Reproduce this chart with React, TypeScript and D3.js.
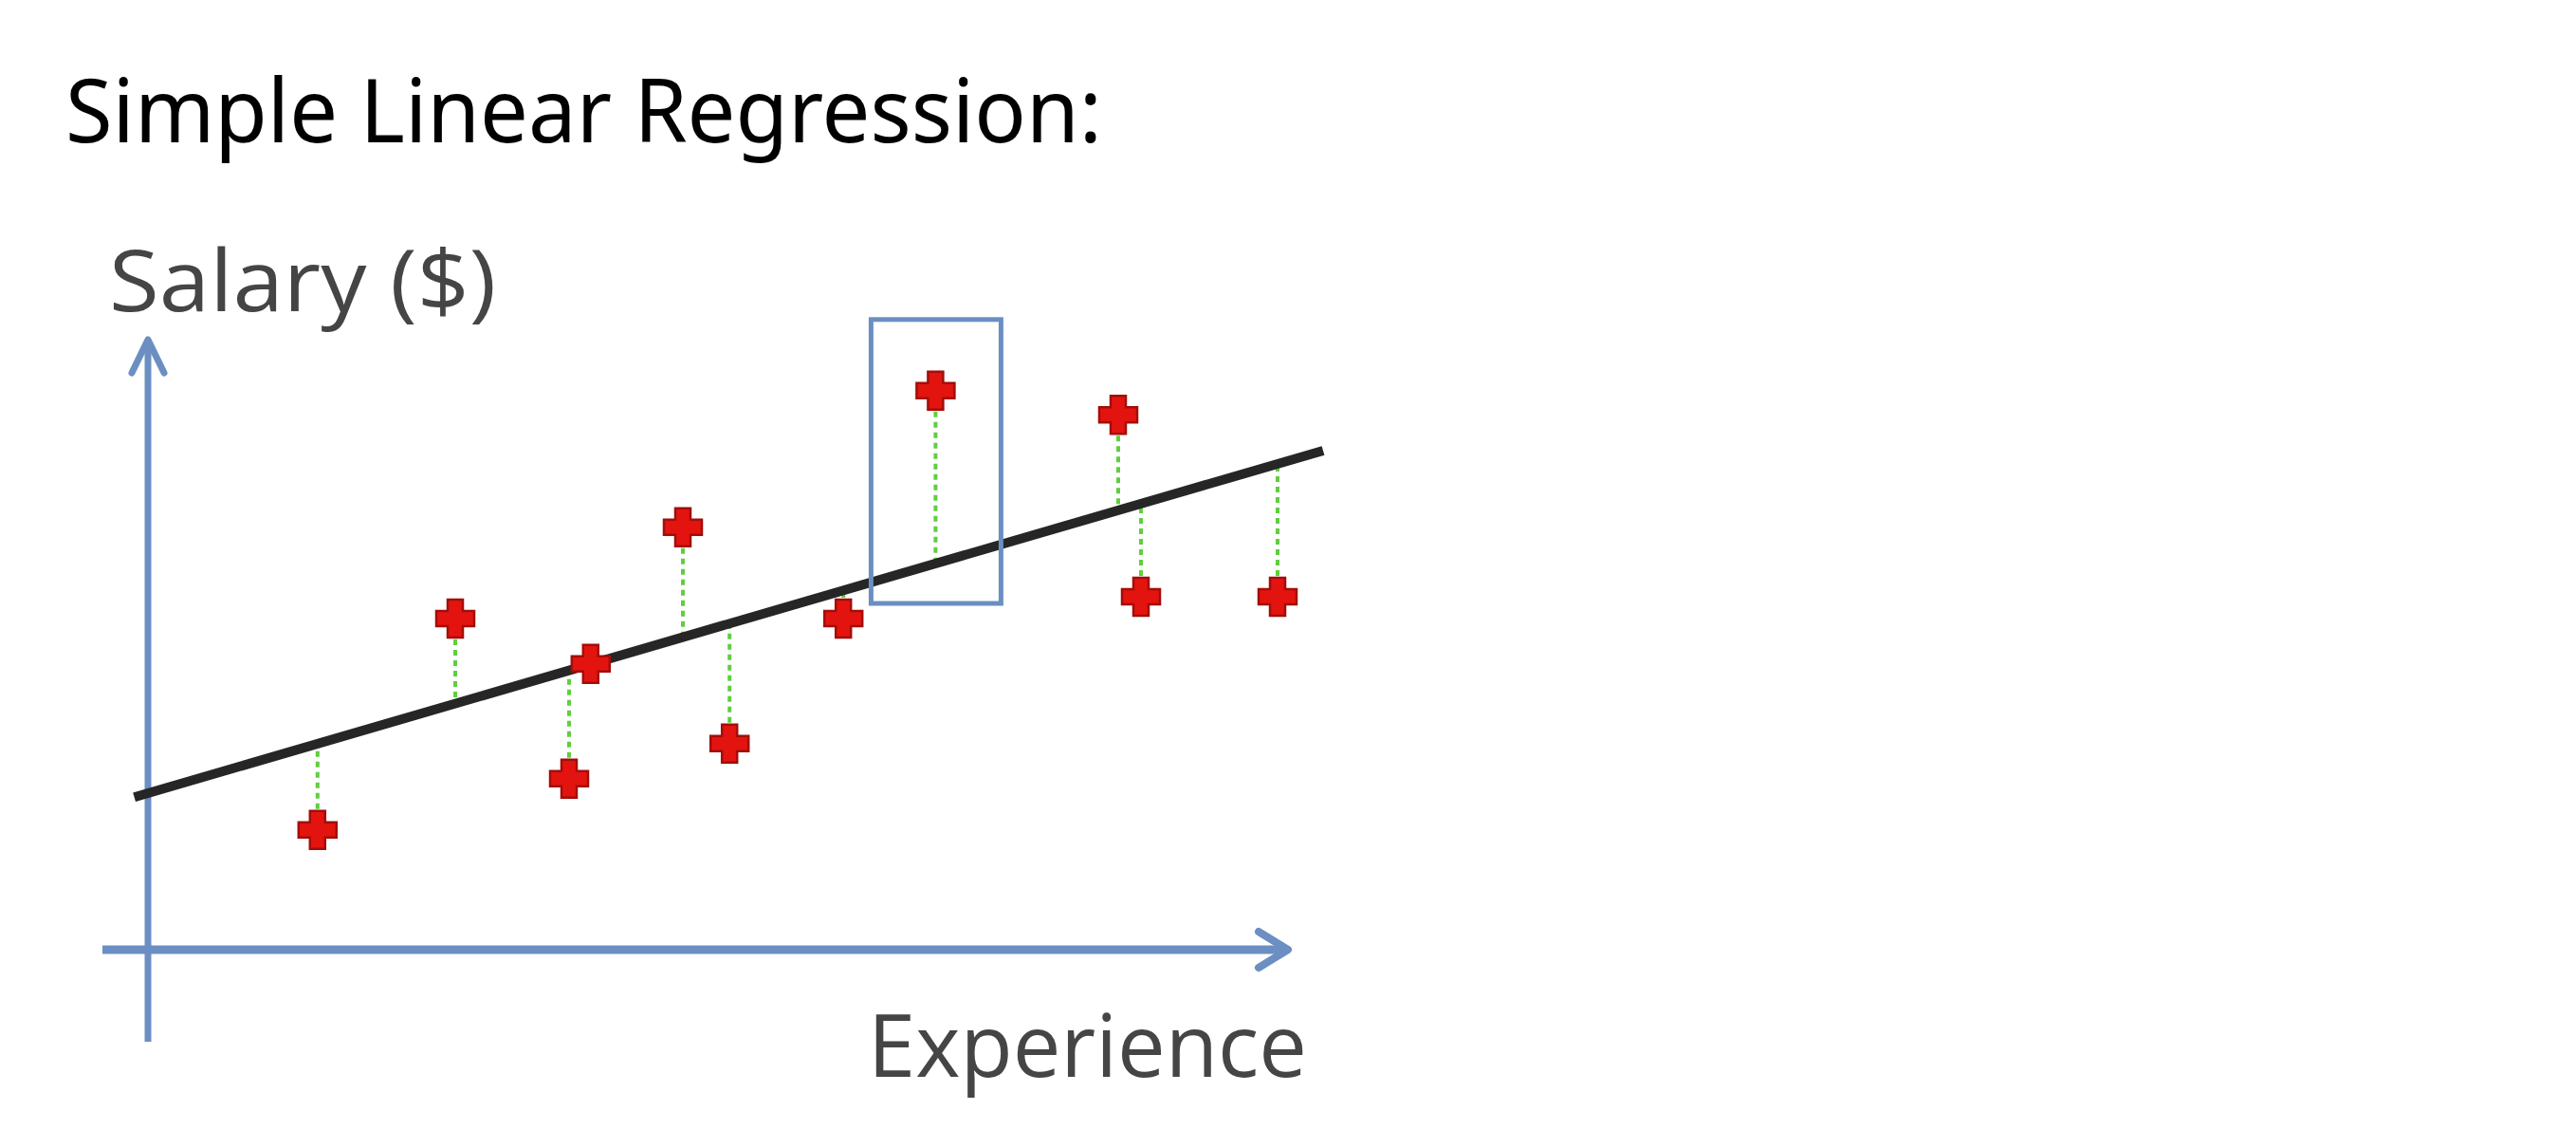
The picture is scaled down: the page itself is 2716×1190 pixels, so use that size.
import React from 'react';
import * as d3 from 'd3';

// years of experience (x) and salary (y), both on a 0-100 scale
const experience: number[] = [14.9, 27.0, 37.0, 38.9, 47.0, 51.1, 61.1, 69.2, 85.25, 87.25, 99.25];
const salary: number[] = [19.8, 54.8, 28.3, 47.3, 69.9, 34.1, 54.8, 92.5, 88.5, 58.4, 58.4];

// fitted line y = intercept + slope * x
const intercept = 25.9;
const slope = 0.549;
const lineExtent: number[] = [-1.2, 103.25];

const highlightIndex = 7;

const W = 2716;
const H = 1190;

// plus sign with thicker arms than d3.symbolCross
const fatCross = {
  draw(ctx: any, size: number) {
    const s = Math.sqrt(size) / 2; // half width
    const a = s * 0.4; // half arm thickness
    ctx.moveTo(-s, -a);
    ctx.lineTo(-a, -a);
    ctx.lineTo(-a, -s);
    ctx.lineTo(a, -s);
    ctx.lineTo(a, -a);
    ctx.lineTo(s, -a);
    ctx.lineTo(s, a);
    ctx.lineTo(a, a);
    ctx.lineTo(a, s);
    ctx.lineTo(-a, s);
    ctx.lineTo(-a, a);
    ctx.lineTo(-s, a);
    ctx.closePath();
  },
};

const App: React.FC = () => {
  const x = d3.scaleLinear().domain([0, 100]).range([156, 1356]);
  const y = d3.scaleLinear().domain([0, 100]).range([1001, 364]);
  const fit = (v: number) => intercept + slope * v;

  const regLine = d3.line<number>()
    .x(d => x(d))
    .y(d => y(fit(d)));

  const cross = d3.symbol().type(fatCross as any).size(40 * 40)();

  const axisColor = '#6b8fc2';
  const x0 = x(0);
  const y0 = y(0);

  const hx = x(experience[highlightIndex]);
  const hy = y(salary[highlightIndex]);
  const hl = y(fit(experience[highlightIndex]));

  return (
    <svg width={W} height={H} style={{ position: 'absolute', left: 0, top: 0, display: 'block', background: '#fff' }}>
      <text x={69} y={150} fontFamily="'Noto Sans', sans-serif" fontSize={94} fill="#000"
        textLength={1093} lengthAdjust="spacingAndGlyphs">Simple Linear Regression:</text>

      <text x={115} y={328} fontFamily="'Open Sans', sans-serif" fontSize={90} fill="#454545"
        textLength={408} lengthAdjust="spacingAndGlyphs">Salary ($)</text>

      <text x={915} y={1135} fontFamily="'Open Sans', sans-serif" fontSize={92} fill="#454545"
        textLength={463} lengthAdjust="spacingAndGlyphs">Experience</text>

      {/* axes */}
      <line x1={x0} x2={x0} y1={1098} y2={360} stroke={axisColor} strokeWidth={7} />
      <polyline points={`${x0 - 17},${393} ${x0},${358} ${x0 + 17},${393}`} fill="none"
        stroke={axisColor} strokeWidth={7} strokeLinecap="round" strokeLinejoin="round" />
      <line x1={108} x2={1354} y1={y0} y2={y0} stroke={axisColor} strokeWidth={9} />
      <polyline points={`${1327},${y0 - 19} ${1358},${y0} ${1327},${y0 + 19}`} fill="none"
        stroke={axisColor} strokeWidth={8} strokeLinecap="round" strokeLinejoin="round" />

      {/* residuals */}
      {experience.map((e, i) => (
        <line key={'r' + i} x1={x(e)} x2={x(e)} y1={y(salary[i])} y2={y(fit(e))}
          stroke="#5fcf3e" strokeWidth={4} strokeDasharray="6 5" />
      ))}

      {/* regression line */}
      <path d={regLine(lineExtent) ?? ''} fill="none" stroke="#262626" strokeWidth={10} />

      {/* highlight box */}
      <rect x={hx - 68} y={hy - 75} width={137} height={hl + 42 - (hy - 75)}
        fill="none" stroke={axisColor} strokeWidth={5} />

      {/* points */}
      {experience.map((e, i) => (
        <path key={'p' + i} d={cross ?? ''} transform={`translate(${x(e)},${y(salary[i])})`}
          fill="#e3140f" stroke="#a30d0a" strokeWidth={2.5} />
      ))}
    </svg>
  );
};

export default App;
